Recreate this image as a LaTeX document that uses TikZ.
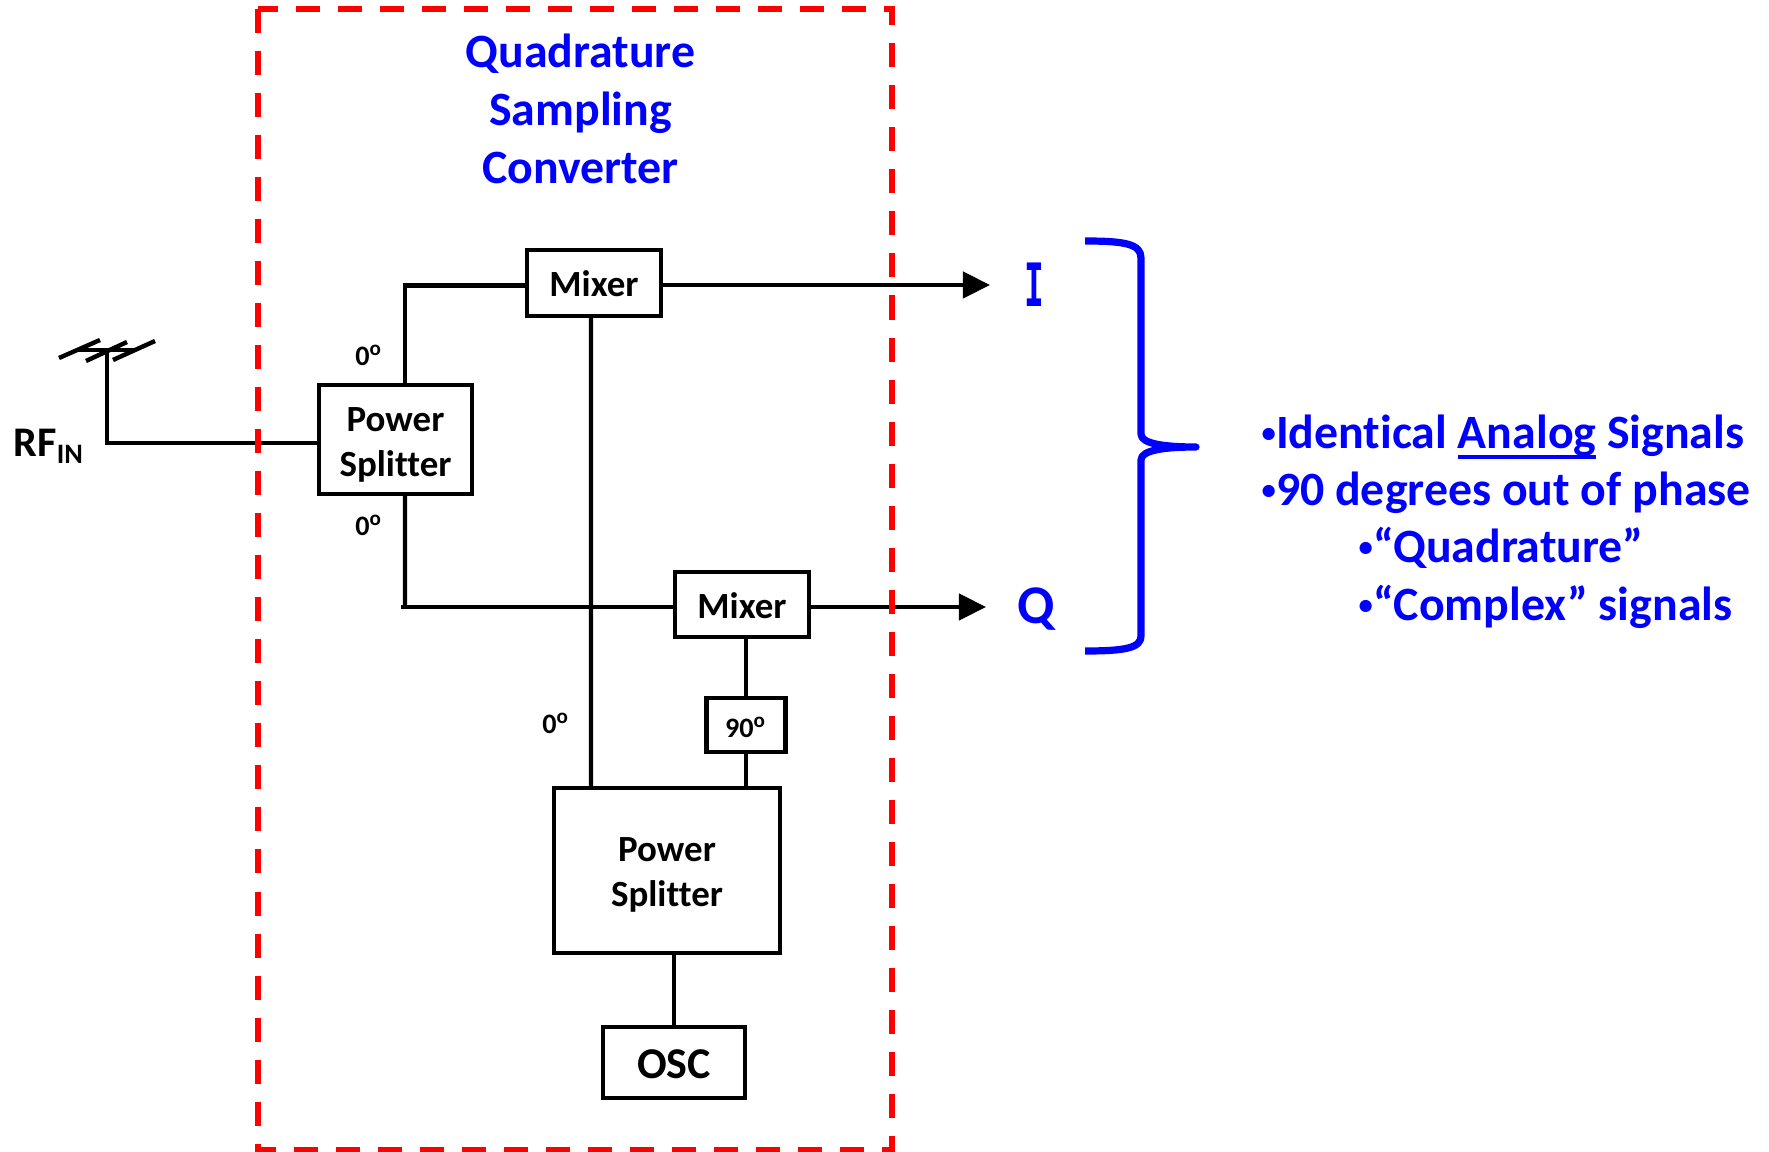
\documentclass[tikz,border=0pt]{standalone}
\usepackage{graphicx}
\usepackage{fontspec}
\setmainfont[Ligatures=NoCommon]{Carlito}
\newfontfamily\barfont{DejaVu Sans Mono}
\usepackage{xcolor}
\definecolor{rfblue}{HTML}{0000FF}
\definecolor{rfred}{HTML}{FF0000}
\usetikzlibrary{arrows.meta,positioning}
\tikzset{
  >={Triangle[length=2.7mm,width=2.6mm]},
  block/.style  ={draw=black,fill=white,line width=0.44mm,inner sep=0pt,outer sep=0pt,
                  font=\fontsize{10.5}{12.8}\selectfont\bfseries,align=center},
  wire/.style   ={draw=black,line width=0.44mm},
  sig/.style    ={->,draw=black,line width=0.44mm},
  deg/.style    ={font=\fontsize{8}{9}\selectfont\bfseries,inner sep=0pt},
  bluetxt/.style={text=rfblue,font=\fontsize{13.6}{16.5}\selectfont\bfseries,inner sep=0pt},
  blueline/.style={bluetxt,anchor=base west},
}
\newcommand{\degr}[1]{#1\textsuperscript{o}}
\newcommand{\drop}[1]{\rule{0pt}{#1}}
\newcommand{\bul}{\raisebox{0.13em}{\scalebox{0.6}{•}}}
\newlength{\ulw}
\newcommand{\ulword}[1]{\settowidth{\ulw}{#1}\rlap{\rule[-2.8pt]{\ulw}{1.2pt}}#1}
\begin{document}
\begin{tikzpicture}[x=0.01cm,y=-0.01cm]
\useasboundingbox (0,0) rectangle (1769,1152);
%======================= BLOCKS ==============================
\node[block,minimum width=1.53cm,minimum height=1.09cm] (split1) at (395.5,439.5) {\drop{10pt}Power\\Splitter};
\node[block,minimum width=1.34cm,minimum height=0.66cm] (mixi) at (594,283) {\drop{8pt}Mixer};
\node[block,minimum width=1.34cm,minimum height=0.65cm] (mixq) at (742,604.5) {\drop{8pt}Mixer};
\node[block,minimum width=0.79cm,minimum height=0.54cm,font=\fontsize{8}{9}\selectfont\bfseries] (shift) at (746,725) {\drop{7pt}\degr{90}};
\node[block,minimum width=2.26cm,minimum height=1.65cm] (split2) at (667,870.5) {\drop{9.5pt}Power\\Splitter};
\node[block,minimum width=1.42cm,minimum height=0.71cm,font=\fontsize{12.5}{15}\selectfont\bfseries] (osc) at (674,1062.5) {\drop{9.3pt}OSC};
%======================= ANTENNA =============================
\coordinate (ant) at (107,350);
\draw[wire] (ant) |- ([yshift=-0.035cm]split1.west);
\draw[wire] (77,350) -- (135,350);
\draw[wire] (59,358) -- (100,340);
\draw[wire] (86,361) -- (127,342);
\draw[wire] (113,360) -- (155,341);
\node[anchor=base west,inner sep=0pt,font=\fontsize{12}{14}\selectfont\bfseries] (rfin) at (13,457) {RF\textsubscript{IN}};
%======================= WIRES ===============================
\coordinate (qcorner) at (405,607);
\draw[wire] ([xshift=0.095cm]split1.north) |- ([yshift=-0.025cm]mixi.west);
\draw[wire] ([xshift=0.095cm]split1.south) -- (qcorner);
\draw[wire] ([xshift=-0.04cm]qcorner) -- (qcorner -| mixq.west);
\draw[wire] ([xshift=-0.03cm]mixi.south) -- ([xshift=-0.76cm]split2.north);
\draw[wire] (mixq.south -| shift.north) -- (shift.north);
\draw[wire] (shift.south) -- (shift.south |- split2.north);
\draw[wire] (osc.north) -- (osc.north |- split2.south);
\coordinate (iend) at (990,285);
\coordinate (qend) at (986,607);
\draw[sig] (mixi.east |- iend) -- (iend);
\draw[sig] (mixq.east |- qend) -- (qend);
\node[deg] (d1) at (369,355) {\degr{0}};
\node[deg] (d2) at (369,525) {\degr{0}};
\node[deg] (d3) at (556,723) {\degr{0}};
%======================= OUTPUTS =============================
\node[bluetxt,font=\fontsize{17}{18}\selectfont\bfseries] (iout) at (1034,285) {\scalebox{0.55}[1]{\barfont\bfseries I}};
\node[bluetxt,font=\fontsize{15.5}{18}\selectfont\bfseries] (qout) at (1036,609) {Q};
\draw[draw=rfblue,line width=0.072cm,line join=round]
  (1085,241) .. controls (1125,241) and (1141,244) .. (1141,258) -- (1141,434)
  .. controls (1141,444) and (1165,447) .. (1196,447)
  .. controls (1165,447) and (1141,450) .. (1141,460) -- (1141,636)
  .. controls (1141,648) and (1125,651) .. (1085,651);
\node[bluetxt,align=center] (title) at (580.5,109) {Quadrature\\Sampling\\Converter};
\node[blueline] (b1) at (1261,449) {\bul Identical \ulword{Analog} Signals};
\node[blueline] (b2) at (1261,506) {\bul 90 degrees out of phase};
\node[blueline] (b3) at (1358,563) {\bul “Quadrature”};
\node[blueline] (b4) at (1358,621) {\bul “Complex” signals};
%======================= CONVERTER OUTLINE ===================
\draw[draw=rfred,line width=0.055cm,dash pattern=on 0.24cm off 0.18cm] (258,9) rectangle (892,1150);
\end{tikzpicture}
\end{document}
